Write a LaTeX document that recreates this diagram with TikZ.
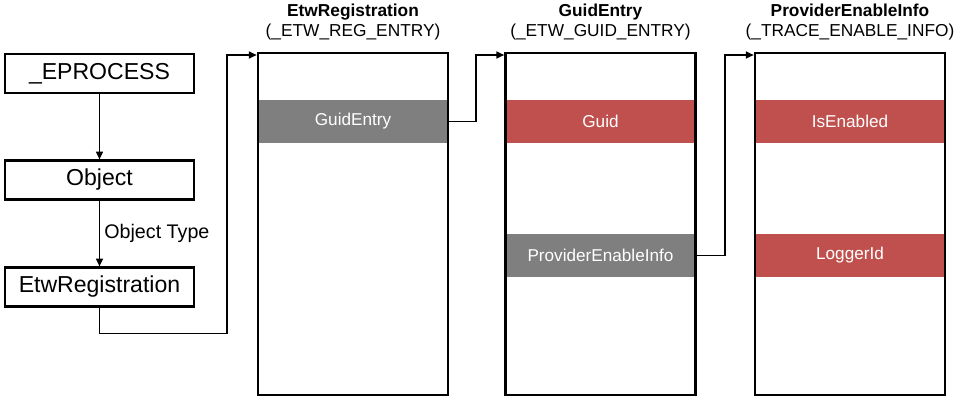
\documentclass[tikz,border=0pt]{standalone}
\usepackage{fontspec}
\setmainfont{Liberation Sans}
\usetikzlibrary{arrows.meta,positioning}
\definecolor{fieldgray}{HTML}{7F7F7F}
\definecolor{fieldred}{HTML}{C0504D}

\begin{document}
\begin{tikzpicture}[x=0.025cm, y=-0.025cm,
  objbox/.style={draw, line width=1.6pt, minimum width=4.725cm, minimum height=0.975cm, inner sep=0pt, font=\fontsize{16.4}{19}\selectfont},
  structbox/.style={draw, line width=1.9pt, minimum width=4.75cm, minimum height=8.55cm, inner sep=0pt},
  field/.style={fill=#1, text=white, minimum width=4.75cm, minimum height=1.075cm, inner sep=0pt, font=\fontsize{12.2}{14}\selectfont},
  header/.style={align=center, font=\fontsize{12.3}{14.4}\selectfont, inner sep=0pt},
  link/.style={line width=0.9pt, -{Triangle[length=5.5pt,width=5pt]}}]
  \useasboundingbox (0,0) rectangle (960,402);

  % object chain on the left
  \node[objbox] (eproc) at (99.5,73.5) {\_EPROCESS};
  \node[objbox] (obj) at (99.5,180) {Object};
  \node[objbox] (etwreg) at (99.5,287) {EtwRegistration};
  \draw[link] (eproc) -- (obj);
  \draw[link] (obj) -- node[right, inner sep=3pt, font=\fontsize{14}{16}\selectfont] {Object Type} (etwreg);

  % fields inside the structures
  \node[field=fieldgray] (fguidentry) at (353,121.5) {GuidEntry};
  \node[field=fieldred] (fguid) at (600.5,121.5) {Guid};
  \node[field=fieldgray] (fprovinfo) at (600.5,255.5) {ProviderEnableInfo};
  \node[field=fieldred] (fenabled) at (850,121.5) {IsEnabled};
  \node[field=fieldred] (flogger) at (850,255.5) {LoggerId};

  % structures
  \node[structbox] (reg) at (353,224) {};
  \node[structbox] (guid) at (600.5,224) {};
  \node[structbox] (info) at (850,224) {};
  \node[header, above=0.27cm of reg] {\textbf{EtwRegistration}\\(\_ETW\_REG\_ENTRY)};
  \node[header, above=0.27cm of guid] {\textbf{GuidEntry}\\(\_ETW\_GUID\_ENTRY)};
  \node[header, above=0.27cm of info] {\textbf{ProviderEnableInfo}\\(\_TRACE\_ENABLE\_INFO)};

  % pointers between the structures
  \coordinate (bendA) at (227,55);
  \coordinate (bendB) at (476,55);
  \coordinate (bendC) at (725,55);
  \draw[link] (etwreg.south) -- ++(0,26) -| (bendA) -- (bendA -| reg.west);
  \draw[link] (fguidentry.east) -| (bendB) -- (bendB -| guid.west);
  \draw[link] (fprovinfo.east) -| (bendC) -- (bendC -| info.west);
\end{tikzpicture}
\end{document}
